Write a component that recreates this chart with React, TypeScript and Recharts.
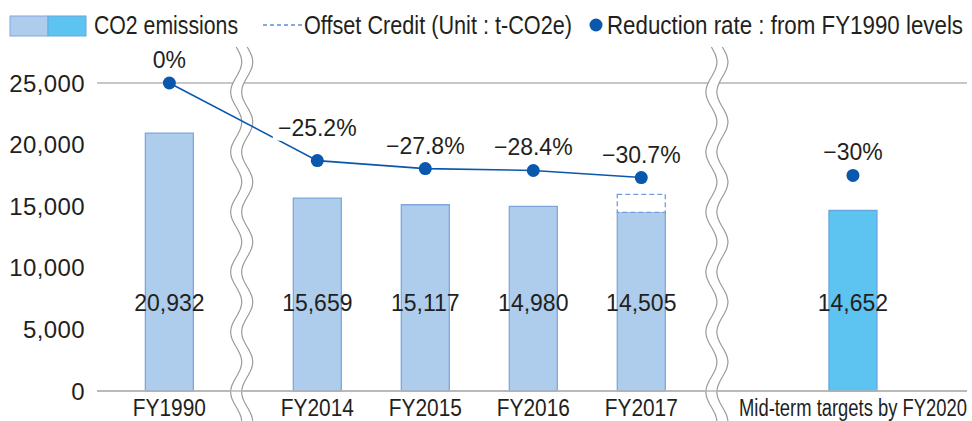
import React from 'react'
import {
  ComposedChart,
  Bar,
  Line,
  Cell,
  XAxis,
  YAxis,
  CartesianGrid,
  LabelList,
  ReferenceArea,
} from 'recharts'

// values
const categories = ['FY1990', 'FY2014', 'FY2015', 'FY2016', 'FY2017', 'Mid-term targets by FY2020']
const emissions = [20932, 15659, 15117, 14980, 14505, 14652]
const offsetCredit = [null, null, null, null, 1460, null]
const reductionRate = [0, -25.2, -27.8, -28.4, -30.7, null]
const targetRate = [null, null, null, null, null, -30]
const yTicks = [0, 5000, 10000, 15000, 20000, 25000]

// layout: where each category sits on the (broken) x axis, in bar-spacing units
const SLOTS = [0.67, 2.04, 3.04, 4.04, 5.04, 7.0]
const BREAKS = [1.34, 5.74]
const X_DOMAIN: [number, number] = [0, 8.056]

const W = 972
const H = 421

const TEXT = '#231f20'
const LIGHT = '#aecdec'
const LIGHT_EDGE = '#7fa7dc'
const BRIGHT = '#5dc3f0'
const BRIGHT_EDGE = '#6aa6de'
const NAVY = '#0a58ad'
const GRID = '#b4b4b4'
const FONT = "'Liberation Sans', Arial, sans-serif"

const data = categories.map((name, i) => ({
  name,
  pos: SLOTS[i],
  emissions: emissions[i],
  offset: offsetCredit[i],
  rate: reductionRate[i],
  target: targetRate[i],
}))

const fmtRate = (v: number) => (v === 0 ? '0%' : `\u2212${Math.abs(v)}%`)

const RateLabel = (props: any) => {
  const { x, y, value, index } = props
  if (value === null || value === undefined) return null
  const text = fmtRate(Number(value))
  const w = text.length * 13.5 + 8
  // the first drop label sits higher so the steep segment doesn't run into it
  const cy = y - (index === 1 ? 33 : 23)
  return (
    <g>
      <rect x={x - w / 2} y={cy - 13} width={w} height={26} fill="#fff" />
      <text
        x={x}
        y={cy}
        textAnchor="middle"
        dominantBaseline="central"
        fontFamily={FONT}
        fontSize={23}
        fill={TEXT}
      >
        {text}
      </text>
    </g>
  )
}

const ValueLabel = (props: any) => {
  const { x, y, width, height, value } = props
  if (value === null || value === undefined) return null
  return (
    <text
      x={x + width / 2}
      y={y + height - 88}
      textAnchor="middle"
      dominantBaseline="central"
      fontFamily={FONT}
      fontSize={23}
      fill={TEXT}
    >
      {Number(value).toLocaleString('en-US')}
    </text>
  )
}

// squiggly "axis break" band
const BreakShape = (props: any) => {
  const { x, width } = props
  const cx = x + width / 2
  const top = 47
  const bottom = H
  const amp = 5.5
  const period = 60
  const gap = 11
  const xAt = (yy: number, off: number) =>
    (cx + off + amp * Math.sin(((yy - top) / period) * Math.PI * 2)).toFixed(1)
  let left = ''
  let right = ''
  const back: string[] = []
  for (let yy = top; yy <= bottom; yy += 2) {
    left += `${left ? 'L' : 'M'}${xAt(yy, -gap / 2)},${yy} `
    right += `${right ? 'L' : 'M'}${xAt(yy, gap / 2)},${yy} `
    back.unshift(`L${xAt(yy, gap / 2)},${yy}`)
  }
  const fill = left + back.join(' ') + 'Z'
  return (
    <g>
      <path d={fill} fill="#fff" stroke="none" />
      <path d={left} fill="none" stroke="#9a9a9a" strokeWidth={1.2} />
      <path d={right} fill="none" stroke="#9a9a9a" strokeWidth={1.2} />
    </g>
  )
}

const CategoryTick = (props: any) => {
  const { x, y, payload } = props
  const i = SLOTS.indexOf(payload.value)
  const label = categories[i] ?? ''
  const long = label.length > 12
  return (
    <g transform={`translate(${x},${y + 9}) scale(0.87,1)`}>
      <text
        x={0}
        y={0}
        textAnchor="middle"
        dominantBaseline="central"
        fontFamily={FONT}
        fontSize={long ? 23 : 24}
        fill={TEXT}
        textLength={long ? 262 : undefined}
        lengthAdjust={long ? 'spacingAndGlyphs' : undefined}
      >
        {label}
      </text>
    </g>
  )
}

function ChartLegend() {
  const txt = { fontFamily: FONT, fontSize: 25, fill: TEXT, lengthAdjust: 'spacingAndGlyphs' as const }
  return (
    <svg width={W} height={50} style={{ position: 'absolute', left: 0, top: 0 }}>
      <rect x={10} y={16} width={38} height={20} fill={LIGHT} stroke={LIGHT_EDGE} />
      <rect x={48} y={16} width={38} height={20} fill={BRIGHT} stroke={BRIGHT_EDGE} />
      <text x={94} y={34} textLength={144} {...txt}>
        CO2 emissions
      </text>
      <line x1={263} y1={25} x2={302} y2={25} stroke="#5b8fd6" strokeWidth={1.3} strokeDasharray="4 3" />
      <text x={304} y={34} textLength={268} {...txt}>
        Offset Credit (Unit : t-CO2e)
      </text>
      <circle cx={596} cy={25} r={6.5} fill={NAVY} />
      <text x={607} y={34} textLength={356} {...txt}>
        Reduction rate : from FY1990 levels
      </text>
    </svg>
  )
}

export default function App() {
  return (
    <div style={{ position: 'relative', width: W, height: H, background: '#fff' }}>
      <style>{'body{margin:0;background:#fff}'}</style>
      <ComposedChart
        width={W}
        height={H}
        data={data}
        margin={{ top: 83, right: 5, left: 0, bottom: 0 }}
      >
        <CartesianGrid vertical={false} stroke={GRID} strokeWidth={1.3} />
        <XAxis
          type="number"
          dataKey="pos"
          domain={X_DOMAIN}
          allowDataOverflow
          ticks={SLOTS}
          interval={0}
          axisLine={{ stroke: GRID, strokeWidth: 1.3 }}
          tickLine={false}
          height={30}
          tick={<CategoryTick />}
        />
        <YAxis
          yAxisId="left"
          domain={[0, 25000]}
          ticks={yTicks}
          width={97}
          axisLine={false}
          tickLine={false}
          tickMargin={6}
          tickFormatter={(v: number) => v.toLocaleString('en-US')}
          tick={{ fontFamily: FONT, fontSize: 24, fill: TEXT, letterSpacing: 0.4 }}
        />
        <YAxis yAxisId="right" orientation="right" domain={[-100, 0]} hide />
        {BREAKS.map((b) => (
          <ReferenceArea
            key={b}
            yAxisId="left"
            x1={b - 0.05}
            x2={b + 0.05}
            y1={0}
            y2={25000}
            shape={<BreakShape />}
          />
        ))}
        <Bar
          yAxisId="left"
          dataKey="emissions"
          stackId="a"
          barSize={48}
          isAnimationActive={false}
        >
          {data.map((d, i) => (
            <Cell
              key={d.name}
              fill={i === data.length - 1 ? BRIGHT : LIGHT}
              stroke={i === data.length - 1 ? BRIGHT_EDGE : LIGHT_EDGE}
              strokeWidth={1.3}
            />
          ))}
          <LabelList dataKey="emissions" content={<ValueLabel />} />
        </Bar>
        <Bar
          yAxisId="left"
          dataKey="offset"
          stackId="a"
          barSize={48}
          fill="#fff"
          stroke="#6f9fdc"
          strokeWidth={1.3}
          strokeDasharray="5 3"
          isAnimationActive={false}
        />
        <Line
          yAxisId="right"
          dataKey="rate"
          stroke={NAVY}
          strokeWidth={1.6}
          dot={{ r: 6.5, fill: NAVY, stroke: 'none' }}
          isAnimationActive={false}
        >
          <LabelList dataKey="rate" content={<RateLabel />} />
        </Line>
        <Line
          yAxisId="right"
          dataKey="target"
          stroke="none"
          dot={{ r: 6.5, fill: NAVY, stroke: 'none' }}
          isAnimationActive={false}
        >
          <LabelList dataKey="target" content={<RateLabel />} />
        </Line>
      </ComposedChart>
      <ChartLegend />
    </div>
  )
}
